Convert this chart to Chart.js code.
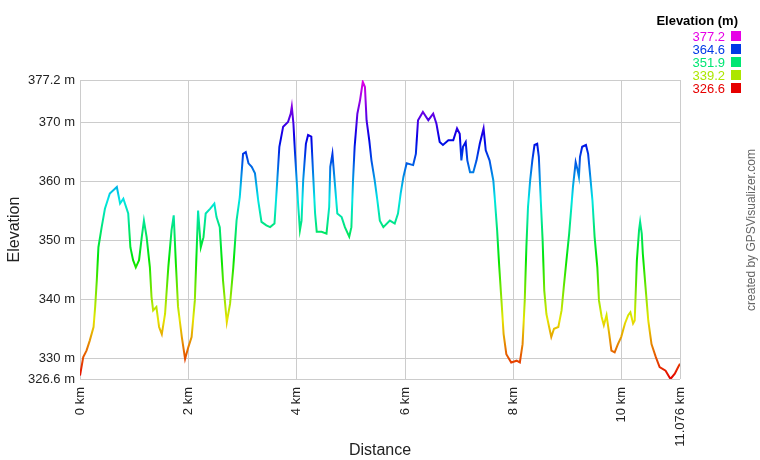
<!DOCTYPE html>
<html>
<head>
<meta charset="utf-8">
<title>Elevation profile</title>
<script src="https://cdn.jsdelivr.net/npm/chart.js@4/dist/chart.umd.min.js"></script>
<style>
  html, body { margin: 0; padding: 0; background: #ffffff; }
  #wrap { width: 760px; height: 460px; }
</style>
</head>
<body>
<div id="wrap"><canvas id="profile" width="760" height="460"></canvas></div>
<script>
// --- Data ---
const distanceKm = [
  0, 0.06, 0.12, 0.18, 0.25, 0.28, 0.31, 0.34, 0.40, 0.46, 0.55, 0.68, 0.74, 0.80, 0.89, 0.93,
  0.98, 1.03, 1.09, 1.14, 1.18, 1.23, 1.29, 1.32, 1.35, 1.41, 1.46, 1.51, 1.57, 1.63, 1.69, 1.73,
  1.77, 1.81, 1.88, 1.94, 2.00, 2.06, 2.12, 2.16, 2.18, 2.23, 2.28, 2.32, 2.40, 2.48, 2.52, 2.58,
  2.64, 2.71, 2.77, 2.83, 2.89, 2.95, 3.01, 3.06, 3.11, 3.17, 3.23, 3.29, 3.35, 3.44, 3.51, 3.59,
  3.63, 3.68, 3.75, 3.84, 3.89, 3.91, 3.94, 3.97, 4.00, 4.03, 4.06, 4.09, 4.12, 4.17, 4.21, 4.27,
  4.30, 4.34, 4.37, 4.46, 4.55, 4.60, 4.62, 4.66, 4.70, 4.75, 4.83, 4.89, 4.97, 5.01, 5.04, 5.07,
  5.12, 5.17, 5.22, 5.26, 5.29, 5.34, 5.38, 5.44, 5.49, 5.535, 5.60, 5.72, 5.81, 5.87, 5.92, 5.97,
  6.03, 6.15, 6.20, 6.24, 6.33, 6.43, 6.52, 6.58, 6.64, 6.70, 6.80, 6.89, 6.96, 7.01, 7.04, 7.07,
  7.12, 7.15, 7.20, 7.26, 7.32, 7.38, 7.45, 7.49, 7.56, 7.63, 7.66, 7.70, 7.74, 7.78, 7.82, 7.87,
  7.96, 8.06, 8.12, 8.17, 8.21, 8.24, 8.27, 8.31, 8.35, 8.39, 8.44, 8.47, 8.50, 8.54, 8.57, 8.61,
  8.66, 8.70, 8.75, 8.83, 8.89, 8.93, 8.98, 9.03, 9.07, 9.10, 9.15, 9.18, 9.21, 9.23, 9.27, 9.34,
  9.38, 9.42, 9.46, 9.50, 9.55, 9.58, 9.63, 9.67, 9.72, 9.77, 9.81, 9.87, 9.93, 9.99, 10.06, 10.12,
  10.16, 10.21, 10.24, 10.28, 10.32, 10.34, 10.37, 10.39, 10.44, 10.49, 10.55, 10.63, 10.70, 10.81, 10.90, 10.98,
  11.04, 11.076
];
const elevationM = [
  327.2, 330.3, 331.4, 333.1, 335.4, 338.8, 343.3, 348.9, 352.3, 355.4, 358.0, 359.1, 356.3, 357.1, 354.6, 348.9,
  346.7, 345.5, 346.7, 350.6, 353.4, 350.6, 345.5, 340.5, 338.2, 338.8, 335.4, 334.2, 337.6, 345.5, 351.8, 354.3,
  346.1, 338.8, 333.7, 330.0, 332.0, 333.7, 339.9, 350.1, 355.1, 348.9, 350.6, 354.6, 355.4, 356.3, 354.0, 352.3,
  343.3, 336.2, 339.3, 345.5, 353.4, 357.4, 364.7, 365.0, 363.1, 362.5, 361.4, 356.8, 353.2, 352.6, 352.3, 352.9,
  358.5, 365.9, 369.3, 370.1, 371.5, 372.7, 369.8, 364.7, 360.2, 355.7, 351.8, 353.4, 360.2, 366.4, 367.9, 367.6,
  361.9, 354.6, 351.5, 351.5, 351.2, 355.7, 362.5, 364.7, 360.2, 354.6, 354.0, 352.3, 350.7, 352.3, 360.2, 365.9,
  371.5, 373.8, 376.9, 376.0, 370.4, 367.0, 363.6, 360.2, 356.8, 353.4, 352.3, 353.4, 352.9, 354.6, 358.0, 360.8,
  363.1, 362.8, 364.7, 370.4, 371.8, 370.4, 371.5, 369.8, 366.7, 366.2, 367.0, 367.0, 369.0, 368.1, 363.6, 365.9,
  366.7, 363.6, 361.6, 361.6, 363.6, 366.4, 369.0, 365.3, 363.6, 360.2, 356.8, 351.8, 345.5, 339.9, 334.2, 330.8,
  329.4, 329.7, 329.4, 332.5, 339.9, 348.9, 355.7, 360.2, 363.6, 366.2, 366.4, 364.2, 358.0, 350.1, 341.6, 337.6,
  335.4, 333.7, 335.1, 335.4, 338.2, 342.1, 346.7, 351.2, 355.7, 359.1, 363.3, 362.2, 360.8, 364.2, 365.9, 366.2,
  364.7, 360.8, 356.8, 350.6, 345.5, 339.9, 337.1, 335.7, 337.4, 334.2, 331.4, 331.1, 332.5, 333.7, 336.0, 337.4,
  337.9, 336.0, 336.5, 346.7, 351.8, 353.2, 351.2, 347.8, 342.1, 336.5, 332.5, 330.3, 328.6, 328.0, 326.6, 327.5,
  328.6, 329.2
];
const xTickValues = [0, 2, 4, 6, 8, 10, 11.076];
const yTickValues = [326.6, 330, 340, 350, 360, 370, 377.2];
const legendValues = [377.2, 364.6, 351.9, 339.2, 326.6];

const elevMin = 326.6;
const elevMax = 377.2;

// hue runs red (low) -> magenta (high)
const hueColor = (t) => `hsl(${Math.round(t * 300)}, 100%, 45%)`;
const colorFor = (elev) => hueColor(Math.max(0, Math.min(1, (elev - elevMin) / (elevMax - elevMin))));

const fmtTick = (v) => String(Math.round(v * 1000) / 1000);

// vertical gradient so the line colour follows elevation
const elevationGradient = (c) => {
  const chart = c.chart;
  const yScale = chart.scales.y;
  if (!chart.chartArea || !yScale) return colorFor(elevMin);
  const g = chart.ctx.createLinearGradient(0, yScale.getPixelForValue(elevMin), 0, yScale.getPixelForValue(elevMax));
  for (let i = 0; i <= 20; i++) g.addColorStop(i / 20, hueColor(i / 20));
  return g;
};

// Legend + watermark, drawn straight onto the canvas
const extrasPlugin = {
  id: 'extras',
  afterDraw(chart) {
    const ctx = chart.ctx;
    ctx.save();
    ctx.textBaseline = 'middle';
    ctx.textAlign = 'right';
    ctx.fillStyle = '#000000';
    ctx.font = 'bold 13px Arial, "Liberation Sans", sans-serif';
    ctx.fillText('Elevation (m)', 738, 21);

    ctx.font = '13px Arial, "Liberation Sans", sans-serif';
    legendValues.forEach((v, i) => {
      const y = 36 + i * 13;
      ctx.fillStyle = colorFor(v);
      ctx.fillText(v.toFixed(1), 725, y + 1);
      ctx.fillRect(731, y - 5, 10, 10);
    });

    // watermark
    ctx.translate(752, 230);
    ctx.rotate(-Math.PI / 2);
    ctx.textAlign = 'center';
    ctx.fillStyle = '#666666';
    ctx.font = '12px Arial, "Liberation Sans", sans-serif';
    ctx.fillText('created by GPSVisualizer.com', 0, 0);
    ctx.restore();
  }
};

const points = distanceKm.map((d, i) => ({ x: d, y: elevationM[i] }));

new Chart(document.getElementById('profile'), {
  type: 'line',
  data: {
    datasets: [{
      label: 'Elevation',
      data: points,
      borderWidth: 2,
      borderColor: elevationGradient,
      pointRadius: 0,
      tension: 0,
      fill: false
    }]
  },
  options: {
    responsive: false,
    animation: false,
    layout: { padding: { left: 0, right: 80, top: 80, bottom: 0 } },
    plugins: {
      legend: { display: false },
      tooltip: { enabled: false }
    },
    scales: {
      x: {
        type: 'linear',
        min: 0,
        max: 11.076,
        afterBuildTicks: (scale) => { scale.ticks = xTickValues.map(v => ({ value: v })); },
        afterFit: (scale) => { scale.height = 81; },
        grid: { color: '#cccccc', drawTicks: false },
        border: { display: false },
        ticks: {
          autoSkip: false,
          minRotation: 90,
          maxRotation: 90,
          padding: 8,
          color: '#222222',
          font: { size: 13, family: 'Arial, "Liberation Sans", sans-serif' },
          callback: (v) => fmtTick(v) + ' km'
        },
        title: {
          display: true,
          text: 'Distance',
          color: '#222222',
          padding: { top: 0, bottom: 0 },
          font: { size: 16, family: 'Arial, "Liberation Sans", sans-serif' }
        }
      },
      y: {
        type: 'linear',
        min: elevMin,
        max: elevMax,
        afterBuildTicks: (scale) => { scale.ticks = yTickValues.map(v => ({ value: v })); },
        afterFit: (scale) => { scale.width = 80; },
        grid: { color: '#cccccc', drawTicks: false },
        border: { display: false },
        ticks: {
          autoSkip: false,
          padding: 5,
          color: '#222222',
          font: { size: 13, family: 'Arial, "Liberation Sans", sans-serif' },
          callback: (v) => fmtTick(v) + ' m'
        },
        title: {
          display: true,
          text: 'Elevation',
          color: '#222222',
          padding: { top: 5, bottom: 0 },
          font: { size: 16, family: 'Arial, "Liberation Sans", sans-serif' }
        }
      }
    }
  },
  plugins: [extrasPlugin]
});
</script>
</body>
</html>
